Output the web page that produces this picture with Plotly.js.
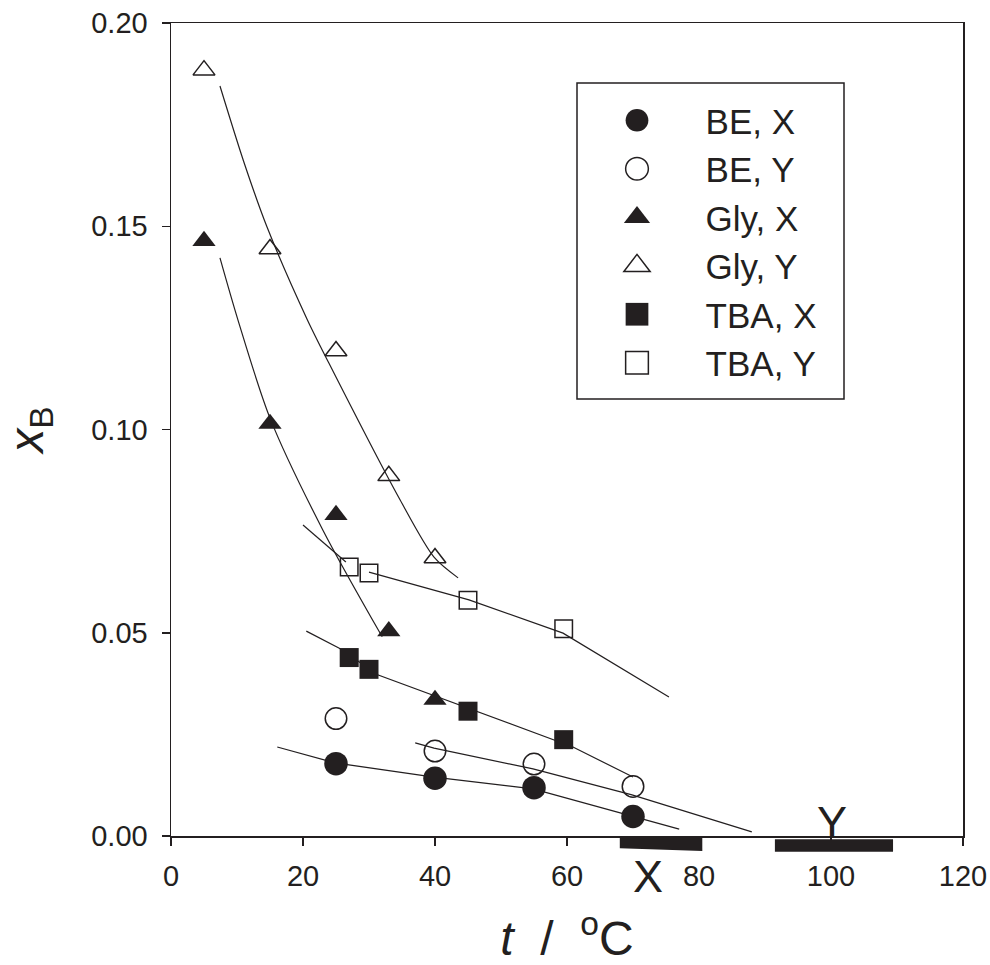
<!DOCTYPE html>
<html>
<head>
<meta charset="utf-8">
<script src="https://cdn.plot.ly/plotly-3.0.1.min.js"></script>
<style>html,body{margin:0;padding:0;background:#fff;}#chart{width:990px;height:965px;}</style>
</head>
<body>
<div id="chart"></div>
<script>
// ---- measured points ----
const tBE  = [25, 40, 55, 70];
const beX  = [0.0178, 0.0142, 0.0119, 0.0048];
const beY  = [0.0289, 0.0209, 0.0177, 0.0122];
const tGly = [5, 15, 25, 33, 40];
const glyX = [0.1464, 0.1014, 0.0790, 0.0504, 0.0335];
const glyY = [0.1884, 0.1444, 0.1193, 0.0886, 0.0684];
const tTBA = [27, 30, 45, 59.5];
const tbaX = [0.0439, 0.0410, 0.0307, 0.0237];
const tbaY = [0.0662, 0.0647, 0.0580, 0.0510];

// ---- fitted curves ----
const fitBEX_t  = [16.1, 24.85, 39.85, 54.85, 69.85, 77.0];
const fitBEX    = [0.0219, 0.0180, 0.0145, 0.0116, 0.0049, 0.0017];
const fitBEY_t  = [37.0, 39.85, 54.85, 69.85, 88.0];
const fitBEY    = [0.0229, 0.0216, 0.0165, 0.0101, 0.0010];
const fitTBAX_t = [20.5, 25.5, 31.4, 60.9, 70.0];
const fitTBAX   = [0.0504, 0.0462, 0.0396, 0.0219, 0.0145];
const fitTBAY1_t = [20.0, 26.5];
const fitTBAY1   = [0.0765, 0.0674];
const fitTBAY2_t = [30.0, 45.15, 59.4, 75.45];
const fitTBAY2   = [0.0649, 0.0581, 0.0499, 0.0342];
const fitGlyX_t = [7.42, 10.15, 15.0, 23.0, 32.0];
const fitGlyX   = [0.1422, 0.1269, 0.1028, 0.0753, 0.0490];
const fitGlyY_t = [7.42, 11.0, 14.55, 20.6, 23.9, 34.7, 39.85, 43.5];
const fitGlyY   = [0.1845, 0.1660, 0.1498, 0.1272, 0.1164, 0.0827, 0.0686, 0.0635];

// ---- phase ranges under the axis ----
const phaseNames = ['X', 'Y'];
const phaseLo    = [68.0, 91.5];
const phaseHi    = [80.5, 109.4];
const phaseLabelT = [72.3, 100.2];

const legendNames = ['BE, X', 'BE, Y', 'Gly, X', 'Gly, Y', 'TBA, X', 'TBA, Y'];

const INK = '#231f20';
const FONT = 'Liberation Sans, Arial, Helvetica, sans-serif';
const pad = '\u00a0\u00a0\u00a0\u00a0\u00a0';

function fit(x, y, shape) {
  return {x: x, y: y, type: 'scatter', mode: 'lines', showlegend: false, hoverinfo: 'skip',
          line: {color: INK, width: 1.2, shape: shape || 'linear', smoothing: 0.8}};
}
function pts(x, y, name, symbol, size, open) {
  return {x: x, y: y, type: 'scatter', mode: 'markers', name: pad + name,
          marker: {symbol: symbol, size: size, color: open ? 'rgba(0,0,0,0)' : INK,
                   line: {color: INK, width: open ? 1.5 : 0}}};
}

const traces = [
  fit(fitBEX_t, fitBEX), fit(fitBEY_t, fitBEY), fit(fitTBAX_t, fitTBAX),
  fit(fitTBAY1_t, fitTBAY1), fit(fitTBAY2_t, fitTBAY2),
  fit(fitGlyX_t, fitGlyX, 'spline'), fit(fitGlyY_t, fitGlyY, 'spline'),
  pts(tBE, beX, legendNames[0], 'circle', 23.5, false),
  pts(tBE, beY, legendNames[1], 'circle', 21.5, true),
  pts(tGly, glyX, legendNames[2], 'triangle-up', 20.2, false),
  pts(tGly, glyY, legendNames[3], 'triangle-up', 19, true),
  pts(tTBA, tbaX, legendNames[4], 'square', 19, false),
  pts(tTBA, tbaY, legendNames[5], 'square', 17.5, true)
];

// plot area geometry (pixels) used to convert to paper units
const L = 171, T = 23, W = 792, H = 813;
function px2paperX(p) { return (p - L) / W; }
function px2paperY(p) { return (T + H - p) / H; }

const shapes = [
  {type: 'rect', xref: 'paper', yref: 'paper',
   x0: px2paperX(577), x1: px2paperX(844), y0: px2paperY(399), y1: px2paperY(83),
   line: {color: INK, width: 1.5}, fillcolor: 'rgba(0,0,0,0)'},
  {type: 'path', xref: 'x', yref: 'paper', fillcolor: INK, line: {width: 0},
   path: 'M' + phaseLo[0] + ',' + px2paperY(836.6) + ' L' + phaseHi[0] + ',' + px2paperY(838) +
         ' L' + phaseHi[0] + ',' + px2paperY(851) + ' L' + phaseLo[0] + ',' + px2paperY(848.3) + ' Z'},
  {type: 'rect', xref: 'x', yref: 'paper', fillcolor: INK, line: {width: 0},
   x0: phaseLo[1], x1: phaseHi[1], y0: px2paperY(851.7), y1: px2paperY(839.3)}
];

const annotations = [
  {x: phaseLabelT[0], xref: 'x', y: px2paperY(873), yref: 'paper', text: phaseNames[0],
   showarrow: false, xanchor: 'center', yanchor: 'middle', yshift: -3,
   font: {family: FONT, size: 45, color: INK}},
  {x: phaseLabelT[1], xref: 'x', y: px2paperY(819), yref: 'paper', text: phaseNames[1],
   showarrow: false, xanchor: 'center', yanchor: 'middle', yshift: -3,
   font: {family: FONT, size: 45, color: INK}}
];

const axisCommon = {
  showline: true, linewidth: 1.5, linecolor: INK, mirror: true,
  ticks: 'outside', ticklen: 8, tickwidth: 1.5, tickcolor: INK,
  showgrid: false, zeroline: false,
  tickfont: {family: FONT, size: 29, color: INK}
};

const layout = {
  width: 990, height: 965,
  margin: {l: L, r: 990 - L - W, t: T, b: 965 - T - H},
  paper_bgcolor: '#fff', plot_bgcolor: '#fff',
  font: {family: FONT, color: INK},
  showlegend: true,
  legend: {x: px2paperX(617), y: px2paperY(91), xanchor: 'left', yanchor: 'top',
           bgcolor: 'rgba(0,0,0,0)', borderwidth: 0,
           font: {family: FONT, size: 35, color: INK}, tracegroupgap: 0},
  xaxis: Object.assign({}, axisCommon, {
    range: [0, 120], tick0: 0, dtick: 20, ticklabelstandoff: 6,
    title: {text: '<i>t</i>\u00a0 /\u00a0 <sup>o</sup>C', standoff: 39,
            font: {family: FONT, size: 48, color: INK}}
  }),
  yaxis: Object.assign({}, axisCommon, {
    range: [0, 0.2], tick0: 0, dtick: 0.05, tickformat: '.2f', ticklabelstandoff: 8,
    title: {text: '<i>x</i><sub>B</sub>', standoff: 40,
            font: {family: FONT, size: 48, color: INK}}
  }),
  shapes: shapes,
  annotations: annotations
};

Plotly.newPlot('chart', traces, layout, {displayModeBar: false, staticPlot: true}).then(function () {
  // enlarge legend glyphs to the on-plot marker size
  document.querySelectorAll('.legend .legendpoints path.scatterpts').forEach(function (p) {
    const tr = p.getAttribute('transform') || '';
    p.setAttribute('transform', tr + ' scale(1.42)');
    p.style.vectorEffect = 'non-scaling-stroke';
  });
});
</script>
</body>
</html>
